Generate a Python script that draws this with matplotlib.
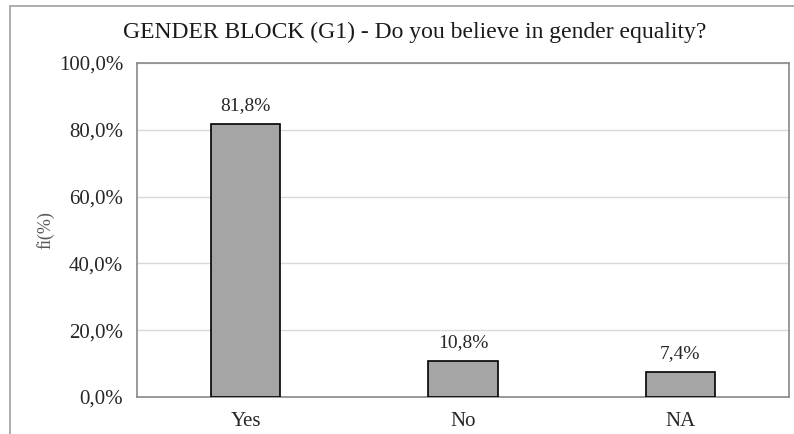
import matplotlib
matplotlib.use("Agg")
import matplotlib.pyplot as plt
from matplotlib.patches import Rectangle

categories = ["Yes", "No", "NA"]
values = [81.8, 10.8, 7.4]
yticks = [0, 20, 40, 60, 80, 100]

plt.rcParams['font.family'] = ['Liberation Serif', 'DejaVu Serif']

fig = plt.figure(figsize=(7.94, 4.34), dpi=100)
W, H = 794, 434
ax = fig.add_axes([137 / W, 1 - 397 / H, (789 - 137) / W, (397 - 63) / H])

x = list(range(len(categories)))
ax.bar(x, values, width=0.32, color="#A5A5A5", edgecolor="black", linewidth=1.2, zorder=3)
for xi, v in zip(x, values):
    ax.annotate(f"{v:.1f}%".replace(".", ","), (xi, v), xytext=(0, 7), textcoords="offset points",
                ha="center", va="bottom", fontsize=14, color="#262626")

ax.set_xlim(-0.5, 2.5)
ax.set_ylim(0, 100)
ax.set_yticks(yticks)
ax.set_yticklabels([f"{t:.1f}%".replace(".", ",") for t in yticks], fontsize=15, color="#262626")
ax.set_xticks(x)
ax.set_xticklabels(categories, fontsize=15, color="#262626")
ax.tick_params(length=0)
ax.tick_params(axis='y', pad=10)
ax.tick_params(axis='x', pad=11)
ax.grid(axis='y', color="#D9D9D9", linewidth=1, zorder=0)
for s in ax.spines.values():
    s.set_color("#898989")
    s.set_linewidth(1.2)

fig.text(45 / W, 1 - 230 / H, "fi(%)", rotation=90, ha="center", va="center",
         fontsize=13, color="#595959")

fig.text(415 / W, 1 - 32 / H, "GENDER BLOCK (G1) - Do you believe in gender equality?",
         ha="center", va="center", fontsize=17, color="#1a1a1a")

fig.patches.append(Rectangle((10 / W, -0.1), 1.2, 1 - 6 / H + 0.1, transform=fig.transFigure,
                             fill=False, edgecolor="#A0A0A0", linewidth=1.2))

fig.savefig("out.png", dpi=100)
